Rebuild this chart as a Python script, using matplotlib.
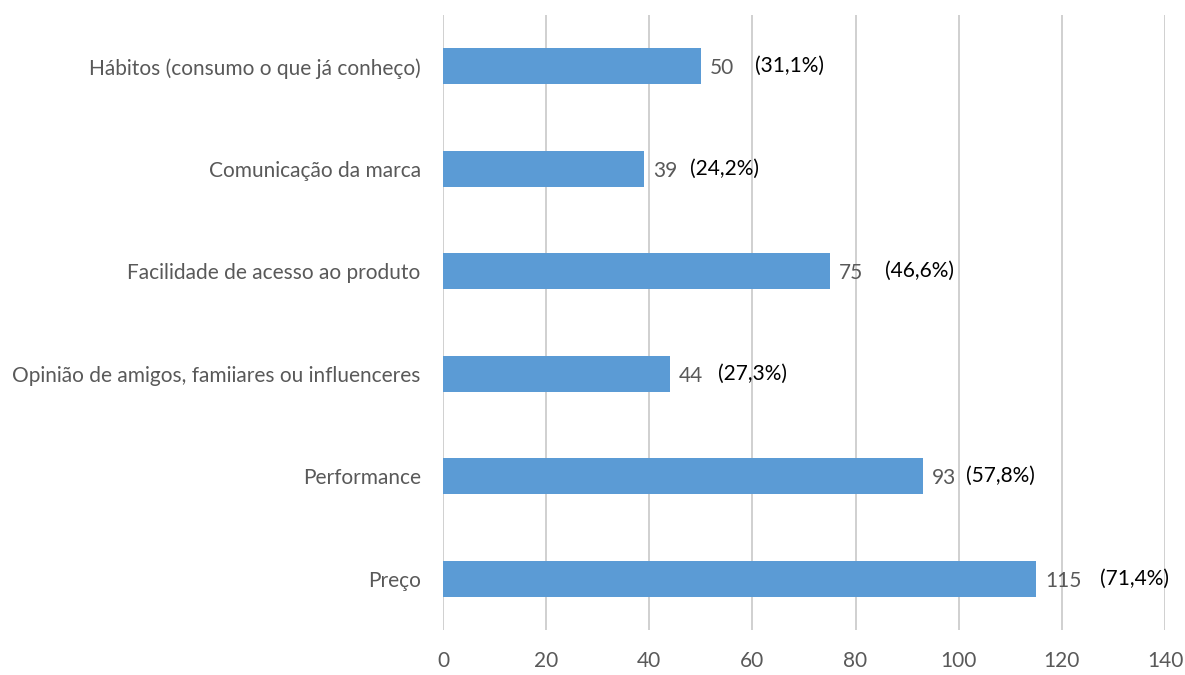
import matplotlib
matplotlib.use("Agg")
from matplotlib import pyplot as plt

# categorias (de baixo para cima) e número de respostas
categorias = [
    "Preço",
    "Performance",
    "Opinião de amigos, famiiares ou influenceres",
    "Facilidade de acesso ao produto",
    "Comunicação da marca",
    "Hábitos (consumo o que já conheço)",
]
respostas = [115, 93, 44, 75, 39, 50]
percentuais = ["(71,4%)", "(57,8%)", "(27,3%)", "(46,6%)", "(24,2%)", "(31,1%)"]

# posição (em unidades do eixo) das caixas de percentagem
pos_pct = [127.4, 101.4, 53.3, 85.7, 47.9, 60.5]

plt.rcParams["font.family"] = ["Lato", "DejaVu Sans"]

fig = plt.figure(figsize=(11.85, 6.75), dpi=100)
ax = fig.add_axes([0.3738, 0.0667, 0.6093, 0.9111])

cinza = "#595959"
y = range(len(categorias))
ax.barh(y, respostas, height=0.35, color="#5b9bd5", zorder=3)

for i, (v, p, px) in enumerate(zip(respostas, percentuais, pos_pct)):
    ax.text(v + 1.8, i - 0.02, str(v), va="center", ha="left", fontsize=15, color=cinza, zorder=4)
    ax.text(px, i, p, va="center", ha="left", fontsize=15, color="black", zorder=4)

ax.set_xlim(0, 140)
ax.set_ylim(-0.5, len(categorias) - 0.5)
ax.set_xticks(range(0, 141, 20))
ax.set_yticks(list(y))
ax.set_yticklabels(categorias)

ax.grid(axis="x", color="#c8c8c8", linewidth=1.2, zorder=0)
for s in ["top", "right", "bottom", "left"]:
    ax.spines[s].set_visible(False)
ax.tick_params(axis="both", length=0, labelsize=15, colors=cinza)
ax.tick_params(axis="x", pad=15)
ax.tick_params(axis="y", pad=16)

fig.savefig("out.png", dpi=100)
